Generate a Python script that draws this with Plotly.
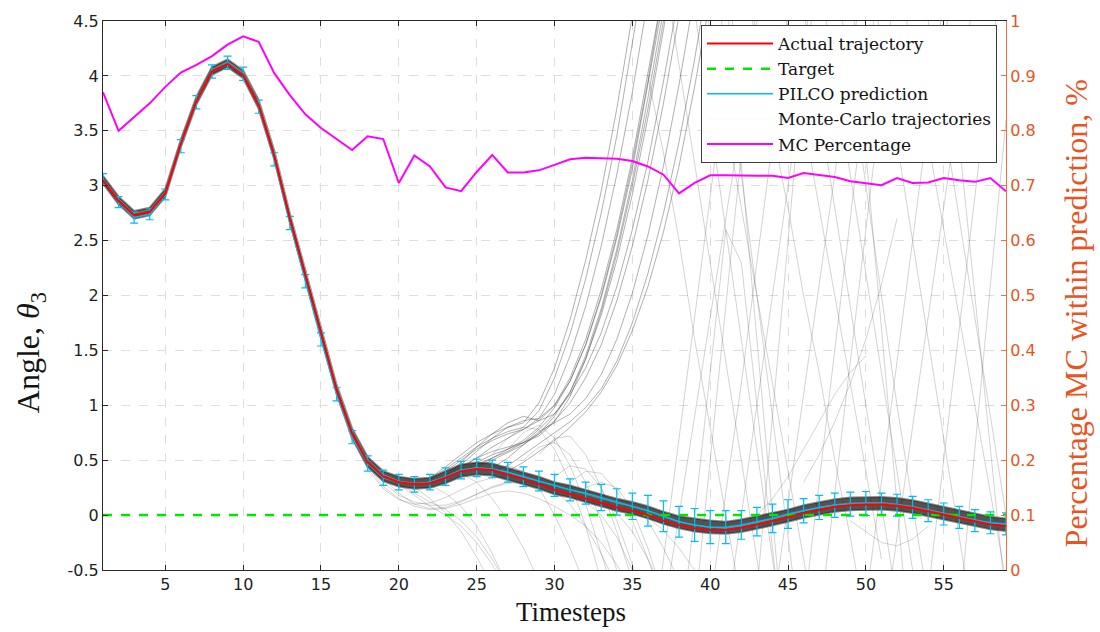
import plotly.graph_objects as go

# ---------------- data ----------------
timesteps = list(range(1, 60))

actual = [3.05, 2.86, 2.73, 2.76, 2.93, 3.38, 3.77, 4.04, 4.11, 4.01,
          3.73, 3.27, 2.70, 2.18, 1.64, 1.14, 0.74, 0.48, 0.35, 0.30,
          0.28, 0.29, 0.34, 0.40, 0.42, 0.41, 0.37, 0.33, 0.28, 0.23,
          0.19, 0.15, 0.11, 0.07, 0.04, 0.00, -0.05, -0.09, -0.12, -0.135,
          -0.135, -0.115, -0.085, -0.055, -0.02, 0.02, 0.05, 0.075, 0.09, 0.097,
          0.097, 0.085, 0.065, 0.035, 0.005, -0.03, -0.06, -0.085, -0.10]

target = [0.0] * 59

pilco_mean = [3.06, 2.85, 2.71, 2.74, 2.92, 3.36, 3.76, 4.04, 4.12, 4.02,
              3.72, 3.24, 2.66, 2.13, 1.60, 1.10, 0.71, 0.47, 0.34, 0.30,
              0.28, 0.30, 0.35, 0.41, 0.43, 0.42, 0.39, 0.35, 0.31, 0.27,
              0.23, 0.20, 0.16, 0.12, 0.08, 0.04, -0.01, -0.06, -0.09, -0.11,
              -0.11, -0.09, -0.06, -0.03, 0.01, 0.04, 0.07, 0.09, 0.10, 0.105,
              0.10, 0.09, 0.07, 0.04, 0.01, -0.02, -0.05, -0.07, -0.08]

pilco_err = [0.05, 0.05, 0.05, 0.05, 0.05, 0.06, 0.06, 0.06, 0.06, 0.06,
             0.06, 0.06, 0.06, 0.06, 0.06, 0.06, 0.06, 0.07, 0.07, 0.07,
             0.07, 0.07, 0.08, 0.08, 0.08, 0.08, 0.09, 0.09, 0.09, 0.10,
             0.10, 0.10, 0.12, 0.12, 0.12, 0.14, 0.14, 0.14, 0.15, 0.15,
             0.15, 0.13, 0.13, 0.13, 0.13, 0.11, 0.11, 0.11, 0.11, 0.11,
             0.10, 0.10, 0.10, 0.10, 0.10, 0.10, 0.10, 0.10, 0.10]

mc_percentage = [0.870, 0.800, 0.825, 0.850, 0.880, 0.906, 0.920, 0.936, 0.957, 0.972,
                 0.962, 0.905, 0.865, 0.830, 0.805, 0.785, 0.765, 0.790, 0.785, 0.705,
                 0.755, 0.735, 0.697, 0.690, 0.725, 0.756, 0.724, 0.724, 0.728, 0.738,
                 0.748, 0.751, 0.750, 0.749, 0.745, 0.735, 0.720, 0.686, 0.705, 0.719,
                 0.719, 0.718, 0.718, 0.718, 0.714, 0.723, 0.720, 0.716, 0.708, 0.704,
                 0.701, 0.714, 0.705, 0.706, 0.714, 0.710, 0.707, 0.714, 0.690]

# Monte-Carlo trajectories: dense core (full length)
mc_core_hi = [3.09, 2.90, 2.77, 2.80, 2.97, 3.42, 3.81, 4.08, 4.15, 4.05,
              3.78, 3.32, 2.75, 2.23, 1.69, 1.19, 0.79, 0.53, 0.40, 0.35,
              0.33, 0.34, 0.40, 0.46, 0.48, 0.47, 0.43, 0.39, 0.35, 0.30,
              0.27, 0.23, 0.19, 0.15, 0.12, 0.08, 0.03, -0.01, -0.03, -0.05,
              -0.06, -0.04, -0.01, 0.02, 0.05, 0.09, 0.12, 0.145, 0.16, 0.165,
              0.165, 0.155, 0.135, 0.105, 0.075, 0.04, 0.01, -0.015, -0.03]
mc_core_mid = [3.07, 2.88, 2.75, 2.78, 2.95, 3.40, 3.79, 4.06, 4.13, 4.04,
               3.77, 3.32, 2.76, 2.24, 1.70, 1.19, 0.78, 0.51, 0.37, 0.31,
               0.29, 0.30, 0.35, 0.41, 0.43, 0.42, 0.39, 0.35, 0.31, 0.27,
               0.23, 0.19, 0.15, 0.11, 0.08, 0.04, -0.01, -0.06, -0.09, -0.11,
               -0.12, -0.10, -0.07, -0.04, 0.00, 0.04, 0.07, 0.095, 0.11, 0.115,
               0.115, 0.10, 0.08, 0.05, 0.02, -0.015, -0.045, -0.07, -0.085]
mc_core_lo = [3.02, 2.83, 2.70, 2.73, 2.90, 3.35, 3.74, 4.01, 4.08, 3.98,
              3.70, 3.24, 2.67, 2.15, 1.61, 1.11, 0.70, 0.44, 0.31, 0.26,
              0.24, 0.25, 0.29, 0.35, 0.37, 0.36, 0.32, 0.28, 0.24, 0.19,
              0.16, 0.12, 0.08, 0.04, 0.01, -0.03, -0.08, -0.12, -0.15, -0.165,
              -0.17, -0.155, -0.125, -0.095, -0.06, -0.025, 0.005, 0.03, 0.045, 0.05,
              0.05, 0.04, 0.02, -0.01, -0.04, -0.075, -0.105, -0.13, -0.145]

# diverging Monte-Carlo trajectories: (first timestep, values)
mc_up = [
    (22, [0.33, 0.42, 0.52, 0.62, 0.70, 0.76, 0.80, 0.95, 1.25, 1.65, 2.15, 2.75, 3.45, 4.25, 5.1, 6.0]),
    (22, [0.32, 0.40, 0.50, 0.60, 0.68, 0.74, 0.78, 0.88, 1.10, 1.45, 1.90, 2.45, 3.10, 3.85, 4.70, 5.6]),
    (23, [0.36, 0.46, 0.58, 0.70, 0.80, 0.86, 0.88, 1.00, 1.25, 1.60, 2.05, 2.60, 3.25, 4.0, 4.8]),
    (23, [0.35, 0.44, 0.52, 0.58, 0.62, 0.66, 0.72, 0.85, 1.08, 1.42, 1.85, 2.38, 3.0, 3.7, 4.5, 5.3]),
    (24, [0.42, 0.52, 0.62, 0.70, 0.78, 0.86, 1.00, 1.22, 1.55, 2.0, 2.55, 3.2, 3.95, 4.8]),
    (24, [0.41, 0.48, 0.55, 0.60, 0.66, 0.74, 0.86, 1.02, 1.25, 1.55, 1.95, 2.45, 3.05, 3.75, 4.55]),
    (25, [0.44, 0.52, 0.60, 0.68, 0.80, 0.98, 1.22, 1.55, 1.98, 2.52, 3.15, 3.9, 4.7]),
    (26, [0.40, 0.45, 0.55, 0.65, 0.75, 0.85, 0.98, 1.15, 1.40, 1.75, 2.20, 2.75, 3.40, 4.15, 5.0]),
    (23, [0.36, 0.48, 0.62, 0.74, 0.84, 0.90, 0.86, 0.92, 1.12, 1.45, 1.88, 2.42, 3.05, 3.8, 4.6]),
    (24, [0.40, 0.46, 0.52, 0.58, 0.66, 0.78, 0.92, 1.10, 1.34, 1.66, 2.08, 2.6, 3.22, 3.95, 4.75]),
    (22, [0.34, 0.44, 0.55, 0.66, 0.74, 0.80, 0.84, 1.02, 1.34, 1.78, 2.32, 2.95, 3.7, 4.55]),
    (25, [0.43, 0.50, 0.57, 0.64, 0.74, 0.90, 1.12, 1.42, 1.82, 2.32, 2.92, 3.62, 4.42, 5.3]),
    (27, [0.40, 0.48, 0.58, 0.68, 0.80, 0.94, 1.12, 1.36, 1.68, 2.08, 2.58, 3.18, 3.9, 4.7]),
    (26, [0.43, 0.52, 0.64, 0.76, 0.84, 0.92, 1.06, 1.28, 1.60, 2.02, 2.55, 3.18, 3.92, 4.75]),
]
mc_down = [
    (27, [0.60, 0.75, 0.82, 0.70, 0.45, 0.10, -0.35, -0.80]),
    (26, [0.55, 0.70, 0.80, 0.78, 0.60, 0.30, -0.10, -0.60]),
    (28, [0.50, 0.62, 0.66, 0.55, 0.30, -0.05, -0.50]),
    (24, [0.38, 0.30, 0.15, -0.05, -0.30, -0.60]),
    (22, [0.27, 0.20, 0.08, -0.10, -0.35, -0.65]),
    (20, [0.28, 0.18, 0.08, 0.00, -0.10, -0.25, -0.45, -0.70]),
    (29, [0.28, 0.22, 0.10, -0.10, -0.35, -0.65]),
    (31, [0.20, 0.12, 0.00, -0.20, -0.50]),
    (33, [0.12, 0.02, -0.15, -0.40, -0.70]),
    (26, [0.42, 0.45, 0.40, 0.25, 0.00, -0.30, -0.65]),
    (30, [0.35, 0.45, 0.42, 0.25, -0.05, -0.45, -0.90]),
    (32, [0.25, 0.30, 0.25, 0.05, -0.30, -0.75]),
    (34, [0.15, 0.10, -0.05, -0.30, -0.60]),
    (29, [0.55, 0.70, 0.72, 0.55, 0.25, -0.15, -0.60]),
    (17, [0.70, 0.42, 0.24, 0.14, 0.10, 0.11, 0.16, 0.23, 0.30, 0.34, 0.35, 0.33, 0.29, 0.25]),
    (18, [0.45, 0.26, 0.15, 0.08, 0.05, 0.06, 0.10, 0.15, 0.20, 0.22, 0.20, 0.15, 0.08, 0.00, -0.10, -0.25, -0.45, -0.70]),
    (19, [0.33, 0.20, 0.10, 0.06, 0.07, 0.12, 0.19, 0.26, 0.30, 0.31, 0.29]),
    (18, [0.46, 0.30, 0.18, 0.12, 0.09, 0.09, 0.13, 0.19, 0.25, 0.29, 0.30, 0.28, 0.24]),
    (20, [0.29, 0.20, 0.12, 0.05, -0.05, -0.20, -0.40, -0.65]),
    (21, [0.26, 0.15, 0.02, -0.15, -0.38, -0.65]),
    (35, [0.06, -0.02, -0.14, -0.30, -0.50, -0.72]),
    (31, [0.30, 0.40, 0.38, 0.22, -0.05, -0.40, -0.80]),
]
mc_wild = [
    (36, [4.0, 3.3, 2.5, 1.6, 0.8, 0.0, -0.8]),
    (37, [5.0, 4.1, 3.2, 2.3, 1.4, 0.5, -0.4, -1.3]),
    (39, [5.2, 4.4, 3.6, 2.8, 2.0, 1.2, 0.4, -0.4, -1.2]),
    (40, [-0.8, 0.2, 1.2, 2.3, 3.4, 4.5, 5.6]),
    (42, [5.0, 4.3, 3.5, 2.8, 2.0, 1.3, 0.5, -0.2, -1.0]),
    (38, [-1.2, 0.0, 1.3, 2.6, 2.3, 1.0, -0.3, -1.6]),
    (44, [-0.9, 0.1, 1.1, 2.1, 3.1, 4.1, 5.1]),
    (45, [5.5, 4.6, 3.7, 2.8, 1.9, 1.0, 0.1, -0.8]),
    (48, [5.0, 4.0, 3.0, 2.0, 1.0, 0.1, -0.8]),
    (47, [-1.0, 0.2, 1.4, 2.6, 3.8, 5.0]),
    (50, [-0.8, 0.3, 1.4, 2.5, 3.6, 4.7]),
    (52, [5.0, 4.2, 3.4, 2.6, 1.8, 1.0, 0.2, -0.6]),
    (54, [-0.7, 0.5, 1.7, 2.9, 4.1, 5.3]),
    (41, [4.8, 3.2, 1.6, 0.0, -1.6]),
    (49, [4.9, 3.3, 1.7, 0.1, -1.5]),
    (43, [-0.7, 0.9, 2.5, 4.1, 5.7]),
    (55, [4.8, 3.4, 2.0, 0.6, -0.8]),
    (46, [0.30, 0.55, 0.85, 1.20, 1.60, 2.10, 2.7]),
    (49, [-0.05, -0.15, -0.25, -0.28, -0.22, -0.10]),
    (36, [-1.5, -0.4, 0.7, 1.8, 2.9, 4.0, 5.1]),
    (37, [-0.9, 0.0, 0.9, 1.8, 2.7, 3.6, 4.5, 5.4]),
    (38, [5.6, 4.6, 3.6, 2.6, 1.6, 0.6, -0.4, -1.4]),
    (40, [5.3, 4.2, 3.1, 2.0, 0.9, -0.2, -1.3]),
    (41, [-1.0, 0.0, 1.0, 2.0, 3.0, 4.0, 5.0]),
    (44, [5.2, 4.4, 3.6, 2.8, 2.0, 1.2, 0.4, -0.4]),
    (46, [-0.9, 0.3, 1.5, 2.7, 3.9, 5.1]),
    (50, [5.2, 4.3, 3.4, 2.5, 1.6, 0.7, -0.2, -1.1]),
    (53, [5.4, 4.5, 3.6, 2.7, 1.8, 0.9, 0.0]),
    (51, [-1.2, -0.2, 0.8, 1.8, 2.8, 3.8, 4.8]),
    (56, [-0.9, 0.6, 2.1, 3.6]),
    (39, [-0.9, 0.5, 1.9, 3.3, 4.7]),
    (47, [4.9, 4.0, 3.1, 2.2, 1.3, 0.4, -0.5]),
    (43, [0.00, 0.15, 0.35, 0.60, 0.85, 1.10, 1.30, 1.45]),
]

x_ticks = [5, 10, 15, 20, 25, 30, 35, 40, 45, 50, 55]
y_ticks = [-0.5, 0, 0.5, 1, 1.5, 2, 2.5, 3, 3.5, 4, 4.5]
y_tick_labels = ["-0.5", "0", "0.5", "1", "1.5", "2", "2.5", "3", "3.5", "4", "4.5"]
y2_ticks = [0, 0.1, 0.2, 0.3, 0.4, 0.5, 0.6, 0.7, 0.8, 0.9, 1]
y2_tick_labels = ["0", "0.1", "0.2", "0.3", "0.4", "0.5", "0.6", "0.7", "0.8", "0.9", "1"]

# ---------------- figure ----------------
ORANGE = "rgb(232,84,30)"
SERIF = "Liberation Serif"
LEGEND_SERIF = "DejaVu Serif"
SANS = "DejaVu Sans"
CYAN = "rgb(0,190,240)"

def gather(series_list):
    xs, ys = [], []
    for start, vals in series_list:
        xs += list(range(start, start + len(vals))) + [None]
        ys += list(vals) + [None]
    return xs, ys

fig = go.Figure()

# thin diverging MC trajectories (behind)
sx, sy = gather(mc_down + mc_wild)
fig.add_trace(go.Scatter(x=sx, y=sy, mode="lines",
                         line=dict(color="rgba(70,70,70,0.3)", width=0.8),
                         showlegend=False, legendgroup="mc", hoverinfo="skip"))
ux, uy = gather(mc_up)
fig.add_trace(go.Scatter(x=ux, y=uy, mode="lines",
                         line=dict(color="rgba(60,60,60,0.45)", width=0.9),
                         showlegend=False, legendgroup="mc", hoverinfo="skip"))

# dense MC core band
fig.add_trace(go.Scatter(x=timesteps, y=mc_core_lo, mode="lines",
                         line=dict(color="rgba(45,45,45,0.55)", width=2),
                         showlegend=False, legendgroup="mc", hoverinfo="skip"))
fig.add_trace(go.Scatter(x=timesteps, y=mc_core_hi, mode="lines", fill="tonexty",
                         fillcolor="rgba(40,40,40,0.8)",
                         line=dict(color="rgba(45,45,45,0.55)", width=2),
                         showlegend=False, legendgroup="mc", hoverinfo="skip"))
fig.add_trace(go.Scatter(x=timesteps, y=mc_core_mid, mode="lines",
                         line=dict(color="rgba(235,235,235,0.9)", width=1),
                         name="Monte-Carlo trajectories", legendgroup="mc",
                         legendrank=4, hoverinfo="skip", opacity=0.35))

fig.add_trace(go.Scatter(x=timesteps, y=pilco_mean, mode="lines",
                         line=dict(color=CYAN, width=1.5),
                         error_y=dict(type="data", array=pilco_err, visible=True,
                                      color=CYAN, thickness=1.2, width=4),
                         name="PILCO prediction", legendrank=3))

fig.add_trace(go.Scatter(x=timesteps, y=target, mode="lines",
                         line=dict(color="rgb(0,230,0)", width=2.5, dash="dash"),
                         name="Target", legendrank=2))

fig.add_trace(go.Scatter(x=timesteps, y=actual, mode="lines",
                         line=dict(color="rgb(255,0,0)", width=2),
                         name="Actual trajectory", legendrank=1))

fig.add_trace(go.Scatter(x=timesteps, y=mc_percentage, mode="lines",
                         line=dict(color="rgb(255,0,255)", width=2),
                         name="MC Percentage", yaxis="y2", legendrank=5))

L, R, T, B = 103, 1100 - 1006, 18, 632 - 570
fig.update_layout(
    width=1100, height=632,
    margin=dict(l=L, r=R, t=T, b=B),
    paper_bgcolor="white", plot_bgcolor="white",
    xaxis=dict(range=[1, 59], tickvals=x_ticks, ticktext=[str(v) for v in x_ticks],
               showgrid=True, gridcolor="rgb(222,222,222)", griddash="dash", gridwidth=1,
               zeroline=False, showline=True, linecolor="rgb(40,40,40)", linewidth=1,
               mirror="ticks", ticks="inside", ticklen=5, tickcolor="rgb(40,40,40)",
               tickfont=dict(family=SANS, size=16, color="rgb(30,30,30)")),
    yaxis=dict(range=[-0.5, 4.5], tickvals=y_ticks, ticktext=y_tick_labels,
               showgrid=True, gridcolor="rgb(222,222,222)", griddash="dash", gridwidth=1,
               zeroline=False, showline=True, linecolor="rgb(40,40,40)", linewidth=1,
               ticks="inside", ticklen=5, tickcolor="rgb(40,40,40)",
               tickfont=dict(family=SANS, size=16, color="rgb(30,30,30)")),
    yaxis2=dict(range=[0, 1], overlaying="y", side="right",
                tickvals=y2_ticks, ticktext=y2_tick_labels,
                showgrid=False, zeroline=False, showline=True,
                linecolor="rgb(240,110,70)", linewidth=1,
                ticks="inside", ticklen=5, tickcolor="rgb(240,110,70)",
                tickfont=dict(family=SANS, size=16, color=ORANGE)),
    legend=dict(x=(997 - L) / 903, y=(570 - 22) / 552, xanchor="right", yanchor="top",
                bgcolor="white", bordercolor="rgb(60,60,60)", borderwidth=1,
                font=dict(family=LEGEND_SERIF, size=17, color="rgb(20,20,20)"),
                tracegroupgap=0, itemwidth=66),
    showlegend=True,
)

fig.add_annotation(text="Timesteps", xref="paper", yref="paper",
                   x=(571 - L) / 903, y=(570 - 612) / 552, showarrow=False,
                   xanchor="center", yanchor="middle",
                   font=dict(family=SERIF, size=27, color="rgb(20,20,20)"))
fig.add_annotation(text="Angle, <i>θ</i><sub>3</sub>", xref="paper", yref="paper",
                   x=(30 - L) / 903, y=(570 - 352) / 552, showarrow=False, textangle=-90,
                   xanchor="center", yanchor="middle",
                   font=dict(family=SERIF, size=32, color="rgb(20,20,20)"))
fig.add_annotation(text="Percentage MC within prediction, %", xref="paper", yref="paper",
                   x=(1076 - L) / 903, y=(570 - 312) / 552, showarrow=False, textangle=-90,
                   xanchor="center", yanchor="middle",
                   font=dict(family=SERIF, size=32, color=ORANGE))

fig.write_html("out.html")
